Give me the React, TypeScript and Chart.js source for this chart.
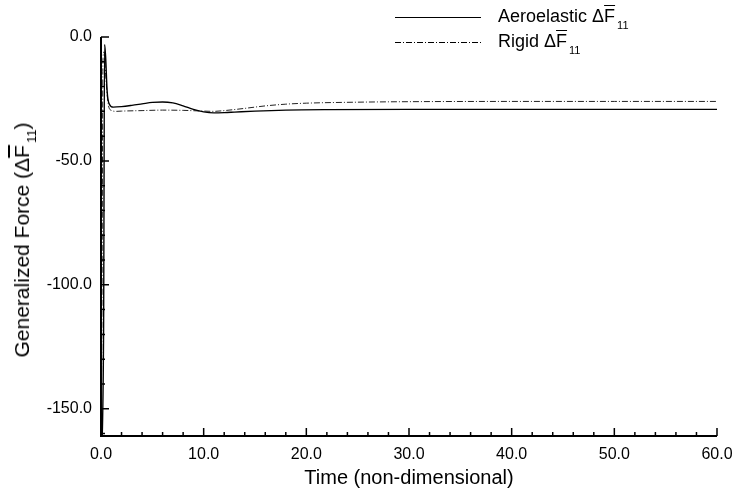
import React, { useEffect, useRef } from "react";
import { Chart, registerables } from "chart.js";

Chart.register(...registerables);

// ---- data ----
const aeroTime = [0, 0.25, 0.35, 0.45, 0.6, 0.8, 1.2, 2, 3, 4, 5, 6, 7, 8, 9, 10, 11, 12, 13, 15, 18, 22, 30, 40, 50, 60];
const aeroelastic = [-175, -120, -3, -8, -22, -27, -28.3, -28.1, -27.6, -27, -26.4, -26.2, -26.6, -27.8, -29.2, -30.2, -30.6, -30.5, -30.3, -29.9, -29.5, -29.3, -29.2, -29.2, -29.2, -29.2];

const rigidTime = [0, 0.1, 0.2, 0.3, 0.45, 0.7, 1.0, 1.5, 2, 4, 6, 8, 10, 11, 12, 14, 16, 18, 20, 25, 30, 40, 50, 60];
const rigid = [-175, -100, -8, -6, -15, -27, -29.6, -30, -29.9, -29.7, -29.5, -29.6, -29.9, -30, -29.7, -28.8, -27.8, -27.1, -26.7, -26.3, -26.1, -26, -26, -26];

const xMajorTicks = [0, 10, 20, 30, 40, 50, 60];
const xMinorStep = 2;
const yMajorTicks = [-150, -100, -50, 0];
const yMinorStep = 10;

const xMin = 0;
const xMax = 60;
const yMin = -161;
const yMax = 0;

const FONT = "'Liberation Sans', Arial, sans-serif";

const axesPlugin = {
  id: "axesPlugin",
  afterDraw(chart: any) {
    const { ctx, chartArea } = chart;
    const { left, right, top, bottom } = chartArea;
    const xs = chart.scales.x;
    const ys = chart.scales.y;
    ctx.save();
    ctx.strokeStyle = "#000";
    ctx.lineWidth = 2;
    ctx.beginPath();
    ctx.moveTo(left, top);
    ctx.lineTo(left, bottom);
    ctx.lineTo(right, bottom);
    ctx.stroke();

    ctx.lineWidth = 1.5;
    ctx.beginPath();
    for (let v = xMin; v <= xMax + 1e-9; v += xMinorStep) {
      const px = xs.getPixelForValue(v);
      const major = xMajorTicks.includes(v);
      ctx.moveTo(px, bottom);
      ctx.lineTo(px, bottom - (major ? 8 : 4));
    }
    for (let v = -160; v <= yMax + 1e-9; v += yMinorStep) {
      const py = ys.getPixelForValue(v);
      const major = yMajorTicks.includes(v);
      ctx.moveTo(left, py);
      ctx.lineTo(left + (major ? 8 : 4), py);
    }
    ctx.stroke();

    // legend samples
    ctx.lineWidth = 1;
    ctx.strokeStyle = "#000";
    ctx.beginPath();
    ctx.moveTo(395, 17.5);
    ctx.lineTo(481, 17.5);
    ctx.stroke();
    ctx.setLineDash([6, 2, 1, 2]);
    ctx.beginPath();
    ctx.moveTo(395, 42.5);
    ctx.lineTo(481, 42.5);
    ctx.stroke();
    ctx.restore();
  },
};

export default function App() {
  const ref = useRef<HTMLCanvasElement | null>(null);

  useEffect(() => {
    if (!ref.current) return;
    const chart = new Chart(ref.current, {
      type: "line",
      data: {
        datasets: [
          {
            label: "Aeroelastic",
            data: aeroTime.map((t, i) => ({ x: t, y: aeroelastic[i] })),
            borderColor: "#000",
            borderWidth: 1.4,
            pointRadius: 0,
            fill: false,
            cubicInterpolationMode: "monotone",
          },
          {
            label: "Rigid",
            data: rigidTime.map((t, i) => ({ x: t, y: rigid[i] })),
            borderColor: "#222",
            borderWidth: 1,
            borderDash: [6, 2, 1, 2],
            pointRadius: 0,
            fill: false,
            cubicInterpolationMode: "monotone",
          },
        ],
      },
      options: {
        responsive: false,
        maintainAspectRatio: false,
        animation: false,
        layout: { padding: { left: 0, top: 37, right: 20, bottom: 0 } },
        plugins: { legend: { display: false }, tooltip: { enabled: false } },
        scales: {
          x: {
            type: "linear",
            min: xMin,
            max: xMax,
            afterBuildTicks: (s: any) => {
              s.ticks = xMajorTicks.map((v) => ({ value: v }));
            },
            afterFit: (s: any) => {
              s.height = 54;
              s.paddingLeft = 0;
              s.paddingRight = 0;
            },
            grid: { display: false, drawTicks: false },
            border: { display: false },
            ticks: {
              color: "#000",
              font: { family: FONT, size: 16 },
              padding: 9,
              maxRotation: 0,
              autoSkip: false,
              callback: (v: any) => Number(v).toFixed(1),
            },
            title: {
              display: true,
              text: "Time (non-dimensional)",
              color: "#000",
              font: { family: FONT, size: 20 },
              padding: { top: 0, bottom: 0 },
            },
          },
          y: {
            type: "linear",
            min: yMin,
            max: yMax,
            afterBuildTicks: (s: any) => {
              s.ticks = yMajorTicks.map((v) => ({ value: v }));
            },
            afterFit: (s: any) => {
              s.width = 101;
              s.paddingTop = 0;
              s.paddingBottom = 0;
            },
            grid: { display: false, drawTicks: false },
            border: { display: false },
            ticks: {
              color: "#000",
              font: { family: FONT, size: 16 },
              padding: 9,
              autoSkip: false,
              callback: (v: any) => Number(v).toFixed(1),
            },
          },
        },
      },
      plugins: [axesPlugin],
    } as any);
    return () => chart.destroy();
  }, []);

  const over: React.CSSProperties = { textDecoration: "overline" };
  const sub: React.CSSProperties = { fontSize: "11px", verticalAlign: "-7px", marginLeft: "2px" };

  return (
    <div style={{ position: "absolute", left: 0, top: 0, width: 737, height: 490, background: "#fff", fontFamily: FONT, color: "#000" }}>
      <canvas ref={ref} width={737} height={490} style={{ display: "block" }} />
      <div style={{ position: "absolute", left: 498, top: 5, fontSize: 18, lineHeight: "22px", whiteSpace: "nowrap" }}>
        Aeroelastic Δ<span style={over}>F</span><span style={sub}>11</span>
      </div>
      <div style={{ position: "absolute", left: 498, top: 30, fontSize: 18, lineHeight: "22px", whiteSpace: "nowrap" }}>
        Rigid Δ<span style={over}>F</span><span style={sub}>11</span>
      </div>
      <div
        style={{
          position: "absolute",
          left: 27,
          top: 240,
          transform: "translate(-50%, -50%) rotate(-90deg)",
          fontSize: 21,
          whiteSpace: "nowrap",
          lineHeight: "24px",
        }}
      >
        Generalized Force (Δ<span style={over}>F</span><span style={{ fontSize: "13px", verticalAlign: "-7px", marginLeft: "2px" }}>11</span>)
      </div>
    </div>
  );
}
